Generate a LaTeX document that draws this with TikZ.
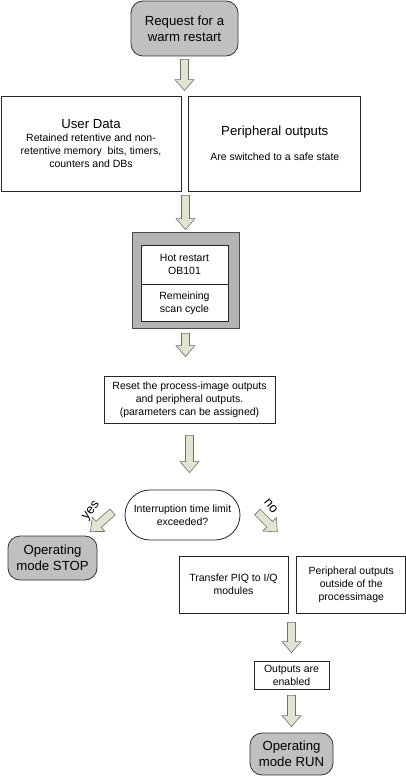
\documentclass[tikz,border=0pt]{standalone}
\usepackage{fontspec}
\setmainfont{Liberation Sans}
\usetikzlibrary{positioning,calc,shapes.misc}

\definecolor{termgray}{HTML}{C0C0C0}
\definecolor{framegray}{HTML}{B4B4B4}
\definecolor{arrowfill}{HTML}{E2E4D0}
\definecolor{arrowline}{HTML}{6E6E6E}

\newcommand{\bigf}{\fontsize{13.2}{16}\selectfont}
\newcommand{\smallf}{\fontsize{10.5}{12.8}\selectfont}

% block arrow between two points
\newcommand{\FatArrow}[2]{%
  \draw[ArrowStyle] let \p1=#1, \p2=#2,
    \n1={atan2(\y2-\y1,\x2-\x1)}, \n2={veclen(\x2-\x1,\y2-\y1)} in
    [shift={(\p1)}, rotate=\n1]
    (0,-4) -- ({\n2-11},-4) -- ({\n2-11},-9.5) -- (\n2,0)
    -- ({\n2-11},9.5) -- ({\n2-11},4) -- (0,4) -- cycle;}

\begin{document}
\begin{tikzpicture}[x=1pt,y=-1pt]
	\tikzset{
	  TermStyle/.style = { draw=black!80, fill=termgray, line width=0.8pt,
	                       rounded corners=12pt, align=center, font=\bigf,
	                       inner sep=0pt },
	  BoxStyle/.style = { draw=black!85, fill=white, line width=0.8pt,
	                      align=center, font=\smallf, inner sep=0pt },
	  ArrowStyle/.style = { draw=arrowline, fill=arrowfill, line width=0.6pt },
	  LabelStyle/.style = { font=\bigf, inner sep=0pt } }
	\useasboundingbox (0,0) rectangle (406,776);
	\node[TermStyle, minimum width=107pt, minimum height=55pt]
	  (req) at (184.5,28.5) {Request for a\\warm restart};
	\node[BoxStyle, minimum width=180pt, minimum height=95pt] (ud) at (91,143.5)
	  {{\bigf User Data}\\[0pt]Retained retentive and non-\\retentive memory\ \ bits, timers,\\counters and DBs};
	\node[BoxStyle, minimum width=172pt, minimum height=95pt, right=7pt of ud] (po)
	  {{\bigf Peripheral outputs}\\[12pt]Are switched to a safe state};
	\node[draw=black!70, fill=framegray, line width=0.8pt,
	      minimum width=107pt, minimum height=96pt] (hot) at (185.5,280) {};
	\node[BoxStyle, minimum width=87pt, minimum height=39pt] (hotA) at (184.5,264.5)
	  {Hot restart\\OB101};
	\node[BoxStyle, minimum width=87pt, minimum height=37pt, below=0pt of hotA] (hotB)
	  {Remeining\\scan cycle};
	\node[BoxStyle, minimum width=171pt, minimum height=47pt] (reset) at (189.5,399.5)
	  {Reset the process-image outputs\\and peripheral outputs.\\(parameters can be assigned)};
	\node[BoxStyle, shape=rounded rectangle, minimum width=115pt, minimum height=50pt]
	  (dec) at (182.5,515) {Interruption time limit\\exceeded?};
	\node[TermStyle, minimum width=89pt, minimum height=44pt] (stop) at (52.5,558)
	  {Operating\\mode STOP};
	\node[BoxStyle, minimum width=109pt, minimum height=57pt] (piq) at (233.5,584.5)
	  {Transfer PIQ to I/Q\\modules};
	\node[BoxStyle, minimum width=109pt, minimum height=57pt, right=8pt of piq] (oth)
	  {Peripheral outputs\\outside of the\\processimage};
	\node[BoxStyle, minimum width=75pt, minimum height=28pt] (en) at (291.5,675)
	  {Outputs are\\enabled};
	\node[TermStyle, minimum width=83pt, minimum height=42pt] (run) at (291.5,754)
	  {Operating\\mode RUN};
	\node[LabelStyle, rotate=52] (yes) at ($(dec.west)+(-33,-4)$) {yes};
	\node[LabelStyle, rotate=-50] (no) at ($(dec.east)+(30.5,-9)$) {no};
	\FatArrow{($(req.south)+(0,3)$)}{($(req.south |- ud.north)+(0,-5)$)}
	\FatArrow{($(hot.north |- ud.south)+(0,4)$)}{($(hot.north)+(0,-2)$)}
	\FatArrow{($(hot.south)+(0,5)$)}{($(hot.south |- reset.north)+(0,-19)$)}
	\FatArrow{($(reset.south)+(0,12)$)}{($(reset.south |- dec.north)+(0,-17)$)}
	\FatArrow{($(dec.west)+(-12,-3)$)}{($(stop.north east)+(-7,-4)$)}
	\FatArrow{($(dec.east)+(17,-3)$)}{($(dec.east)+(37,17)$)}
	\FatArrow{($(en.north |- piq.south)+(0,9)$)}{($(en.north)+(0,-8)$)}
	\FatArrow{($(en.south)+(0,6)$)}{($(run.north)+(0,-6)$)}
\end{tikzpicture}
\end{document}
